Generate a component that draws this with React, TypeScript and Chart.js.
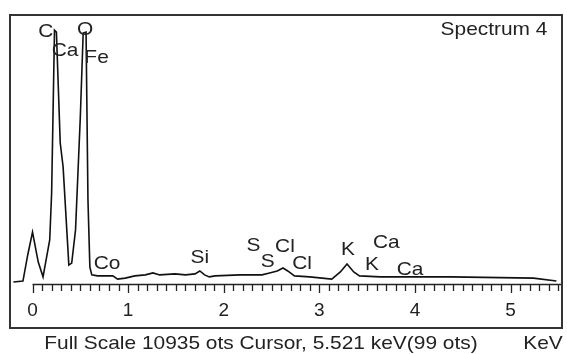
import { useEffect, useRef } from 'react';
import { Chart, registerables } from 'chart.js';

Chart.register(...registerables);

// Spectrum trace (energy in keV, counts)
const energyKeV = [
  -0.2, -0.1, -0.05, 0.0, 0.06, 0.11, 0.18, 0.2, 0.23, 0.25, 0.29, 0.32, 0.38, 0.41, 0.45,
  0.5, 0.53, 0.56, 0.58, 0.6, 0.62, 0.68, 0.84, 0.89, 0.97, 1.07, 1.18, 1.26, 1.33, 1.49,
  1.6, 1.7, 1.75, 1.8, 1.85, 1.91, 2.17, 2.4, 2.48, 2.56, 2.62, 2.67, 2.74, 2.9, 3.13,
  3.22, 3.29, 3.36, 3.42, 3.64, 4.37, 5.24, 5.48,
];
const counts = [
  80, 120, 1180, 2110, 890, 290, 1790, 3700, 10320, 10240, 5730, 4760, 770, 850, 2200,
  6790, 10200, 10240, 3420, 690, 370, 330, 330, 200, 240, 330, 370, 450, 370, 410,
  370, 410, 530, 370, 290, 330, 370, 370, 450, 530, 650, 530, 330, 290, 200,
  490, 810, 490, 330, 290, 290, 240, 120,
];

// Axis
const xTickValues = [0, 1, 2, 3, 4, 5];
const minorStepKeV = 0.1;
const xMinKeV = -0.225;
const xMaxKeV = 5.528;
const fullScaleCounts = 10935;

// Peak labels (anchor in keV / counts)
const peakLabels = ['C', 'O', 'Ca', 'Fe', 'Co', 'Si', 'S', 'S', 'Cl', 'Cl', 'K', 'Ca', 'K', 'Ca'];
const peakLabelKeV = [0.14, 0.55, 0.34, 0.67, 0.78, 1.75, 2.31, 2.46, 2.64, 2.82, 3.3, 3.7, 3.55, 3.95];
const peakLabelCounts = [10244, 10325, 9471, 9187, 813, 1057, 1545, 894, 1504, 813, 1382, 1667, 772, 569];

const titleText = 'Spectrum 4';
const footerText = 'Full Scale 10935 ots Cursor, 5.521 keV(99 ots)';
const unitText = 'KeV';

const FONT = '"Liberation Sans", Arial, Helvetica, sans-serif';

export default function App() {
  const ref = useRef<HTMLCanvasElement>(null);

  useEffect(() => {
    document.body.style.margin = '0';
    const canvas = ref.current;
    if (!canvas) return;

    const drawText = (ctx: CanvasRenderingContext2D, text: string, x: number, y: number, size: number, sx = 1.1) => {
      ctx.save();
      ctx.translate(x, y);
      ctx.scale(sx, 1);
      ctx.font = `${size}px ${FONT}`;
      ctx.textAlign = 'center';
      ctx.textBaseline = 'middle';
      ctx.fillText(text, 0, 0);
      ctx.restore();
    };

    const overlay = {
      id: 'overlay',
      afterDraw(chart: any) {
        const { ctx, chartArea } = chart;
        const xs = chart.scales.x;
        const ys = chart.scales.y;
        const axisY = chartArea.bottom;
        ctx.save();
        // frame
        ctx.strokeStyle = '#333';
        ctx.lineWidth = 2;
        ctx.strokeRect(10, 15, 552, 313);
        // ruler
        ctx.strokeStyle = '#222';
        ctx.lineWidth = 1.3;
        ctx.beginPath();
        ctx.moveTo(xs.getPixelForValue(0), axisY + 0.5);
        ctx.lineTo(chartArea.right, axisY + 0.5);
        for (let i = 0; i * minorStepKeV <= xMaxKeV; i++) {
          const v = i * minorStepKeV;
          const px = Math.round(xs.getPixelForValue(v)) + 0.5;
          const major = i % 10 === 0;
          ctx.moveTo(px, axisY);
          ctx.lineTo(px, axisY + (major ? 9 : 7));
        }
        ctx.stroke();
        // peak labels
        ctx.fillStyle = '#222';
        peakLabels.forEach((t, i) => {
          drawText(ctx, t, xs.getPixelForValue(peakLabelKeV[i]), ys.getPixelForValue(peakLabelCounts[i]), 19);
        });
        drawText(ctx, titleText, 494, 30, 19);
        drawText(ctx, footerText, 261, 344, 19);
        drawText(ctx, unitText, 543, 344, 19);
        ctx.restore();
      },
    };

    const chart = new Chart(canvas, {
      type: 'scatter',
      data: {
        datasets: [
          {
            data: energyKeV.map((x, i) => ({ x, y: counts[i] })),
            showLine: true,
            borderColor: '#111',
            borderWidth: 1.6,
            pointRadius: 0,
            tension: 0,
          },
        ],
      },
      options: {
        animation: false,
        responsive: false,
        maintainAspectRatio: false,
        layout: { padding: { left: 11, right: 6, top: 15, bottom: 0 } },
        plugins: { legend: { display: false }, tooltip: { enabled: false } },
        scales: {
          x: {
            type: 'linear',
            min: xMinKeV,
            max: xMaxKeV,
            afterBuildTicks: (scale: any) => {
              scale.ticks = xTickValues.map((v) => ({ value: v }));
            },
            afterFit: (scale: any) => {
              scale.height = 70;
            },
            grid: {
              display: true,
              drawOnChartArea: false,
              drawTicks: true,
              tickLength: 9,
              color: 'rgba(0,0,0,0)',
              tickColor: 'rgba(0,0,0,0)',
            },
            border: { display: false },
            ticks: {
              autoSkip: false,
              maxRotation: 0,
              padding: 6,
              color: '#222',
              font: { family: FONT, size: 19 },
              callback: (v: any) => String(v),
            },
          },
          y: {
            display: false,
            min: 0,
            max: fullScaleCounts,
          },
        },
      },
      plugins: [overlay],
    });

    return () => chart.destroy();
  }, []);

  return <canvas ref={ref} width={567} height={354} style={{ display: 'block' }} />;
}
